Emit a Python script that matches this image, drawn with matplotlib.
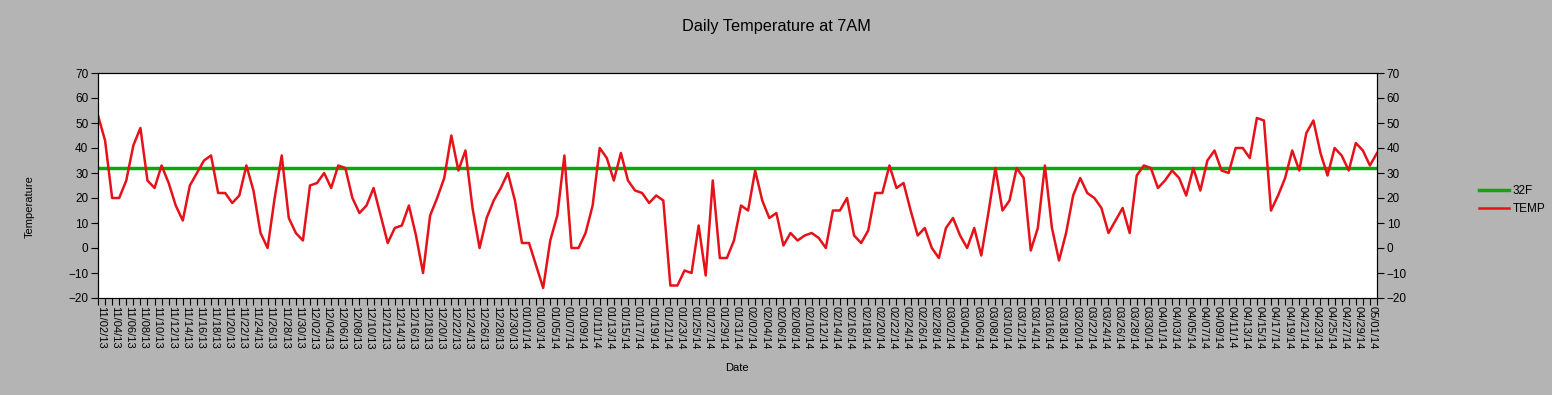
import matplotlib
matplotlib.use("Agg")
import matplotlib.pyplot as plt
import matplotlib.transforms as mtransforms
import pandas as pd

plt.rcParams['font.family'] = ['Liberation Sans', 'DejaVu Sans']

# data, one value per day
dates = pd.date_range("2013-11-02", periods=182, freq="D")
date_labels = [d.strftime("%m/%d/%y") for d in dates]

temp = [
    53, 43, 20, 20, 27, 41, 48, 27, 24, 33, 26, 17, 11, 25, 30, 35, 37, 22, 22, 18,
    21, 33, 23, 6, 0, 20, 37, 12, 6, 3,
    25, 26, 30, 24, 33, 32, 20, 14, 17, 24, 13, 2, 8, 9, 17, 5, -10, 13, 20, 28,
    45, 31, 39, 16, 0, 12, 19, 24, 30, 19,
    2, 2, -7, -16, 3, 13, 37, 0, 0, 6, 17, 40, 36, 27, 38, 27, 23, 22, 18, 21,
    19, -15, -15, -9, -10, 9, -11, 27, -4, -4,
    3, 17, 15, 31, 19, 12, 14, 1, 6, 3, 5, 6, 4, 0, 15, 15, 20, 5, 2, 7,
    22, 22, 33, 24, 26, 15, 5, 8, 0, -4,
    8, 12, 5, 0, 8, -3, 14, 32, 15, 19, 32, 28, -1, 8, 33, 8, -5, 6, 21, 28,
    22, 20, 16, 6, 11, 16, 6, 29, 33, 32,
    24, 27, 31, 28, 21, 32, 23, 35, 39, 31, 30, 40, 40, 36, 52, 51, 15, 21, 28, 39,
    31, 46, 51, 38, 29, 40, 37, 31, 42, 39, 33, 38,
]
freezing = 32
series_names = ["32F", "TEMP"]
y_ticks = [-20, -10, 0, 10, 20, 30, 40, 50, 60, 70]

bg = "#b4b4b4"
green = "#0aa80a"
red = "#e5121a"

fig = plt.figure(figsize=(15.52, 3.95), dpi=100, facecolor=bg)
ax = fig.add_axes([98 / 1552, 97 / 395, 1279 / 1552, 225 / 395])
ax.set_facecolor("white")

x = list(range(len(temp)))
ax.plot(x, [freezing] * len(x), color=green, lw=2.5, label=series_names[0], zorder=2)
ax.plot(x, temp, color=red, lw=1.8, label=series_names[1], zorder=3)

ax.set_xlim(0, len(x) - 1)
ax.set_ylim(-20, 70)
ax.set_yticks(y_ticks)
ax.tick_params(axis="y", direction="out", length=5, width=0.8, labelsize=8.5, pad=2)

ax.set_xticks(x, minor=True)
ax.set_xticks(x[::2])
ax.set_xticklabels(date_labels[::2], rotation=-90, fontsize=8)
ax.tick_params(axis="x", which="both", direction="out", length=5, width=0.8, pad=1)
offset = mtransforms.ScaledTranslation(3 / 100, 0, fig.dpi_scale_trans)
for lbl in ax.get_xticklabels():
    lbl.set_transform(lbl.get_transform() + offset)

for s in ax.spines.values():
    s.set_linewidth(0.8)
    s.set_color("black")

# right axis, same scale
ax2 = ax.twinx()
ax2.set_ylim(-20, 70)
ax2.set_yticks(y_ticks)
ax2.tick_params(axis="y", direction="out", length=5, width=0.8, labelsize=8.5, pad=2)

fig.text(0.5, 1 - 27 / 395, "Daily Temperature at 7AM", ha="center", va="center", fontsize=11.7)
fig.text(737 / 1552, 1 - 368 / 395, "Date", ha="center", va="center", fontsize=8)
fig.text(30 / 1552, 1 - 207 / 395, "Temperature", ha="center", va="center", rotation=90, fontsize=8)

handles, labels = ax.get_legend_handles_labels()
fig.legend(handles, labels, loc="center left", bbox_to_anchor=(1468 / 1552, 1 - 200 / 395),
           frameon=False, fontsize=8.5, handlelength=2.6, handletextpad=0.3, labelspacing=0.5)

fig.savefig("out.png", dpi=100, facecolor=bg)
